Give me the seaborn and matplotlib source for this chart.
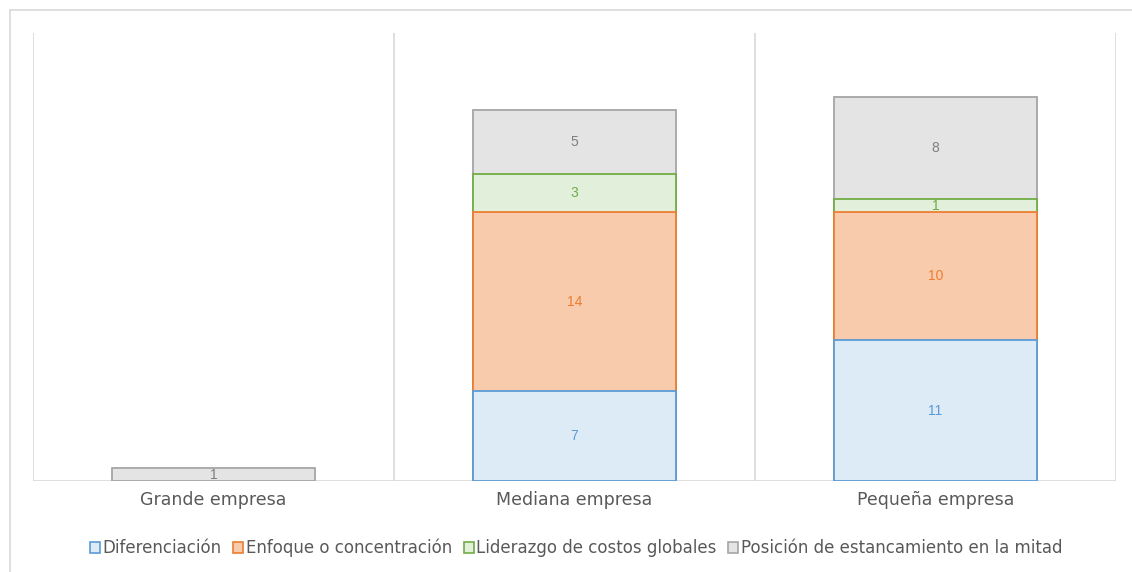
import numpy as np
import pandas as pd
import matplotlib
matplotlib.use("Agg")
import matplotlib.pyplot as plt
from matplotlib.lines import Line2D
from matplotlib.patches import Patch
import seaborn as sns

# Company size categories and strategy counts
categories = ["Grande empresa", "Mediana empresa", "Pequeña empresa"]
series_names = [
    "Diferenciación",
    "Enfoque o concentración",
    "Liderazgo de costos globales",
    "Posición de estancamiento en la mitad",
]
diferenciacion = [0, 7, 11]
enfoque = [0, 14, 10]
liderazgo = [0, 3, 1]
estancamiento = [1, 5, 8]

fills = ["#DDEBF7", "#F8CBAD", "#E2EFDA", "#E4E4E4"]
edges = ["#5B9BD5", "#ED7D31", "#70AD47", "#A5A5A5"]
label_colors = ["#5B9BD5", "#ED7D31", "#70AD47", "#7F7F7F"]

sns.set_theme(style="white")
plt.rcParams["font.family"] = ["Liberation Sans", "DejaVu Sans"]

values = np.array([diferenciacion, enfoque, liderazgo, estancamiento], dtype=float)
cum = np.cumsum(values, axis=0)
bottoms = cum - values

fig = plt.figure(figsize=(11.32, 5.72), dpi=100)
ax = fig.add_axes([33 / 1132, 1 - 481 / 572, (1116 - 33) / 1132, (481 - 33) / 572])

# Stacked bars: draw cumulative heights from the top series down so each
# segment sits on top of the ones below it.
for i in reversed(range(len(series_names))):
    heights = np.where(values[i] > 0, cum[i], np.nan)
    df = pd.DataFrame({"cat": categories, "val": heights})
    sns.barplot(data=df, x="cat", y="val", order=categories, ax=ax,
                color=fills[i], edgecolor=edges[i], linewidth=1.3,
                width=0.56, saturation=1, errorbar=None)

# Segment value labels
for i in range(len(series_names)):
    for j in range(len(categories)):
        v = values[i, j]
        if v > 0:
            ax.text(j, bottoms[i, j] + v / 2, f"{int(v)}", ha="center", va="center",
                    fontsize=10, color=label_colors[i])

ax.set_xlim(-0.5, 2.5)
ax.set_ylim(0, 35)
ax.set_xlabel("")
ax.set_ylabel("")
ax.set_yticks([])
for s in ax.spines.values():
    s.set_visible(False)
for x in [-0.5, 0.5, 1.5, 2.5]:
    ax.axvline(x, color="#D9D9D9", lw=1.2, zorder=0)
ax.axhline(0, color="#D9D9D9", lw=1.2, zorder=0.5)
ax.tick_params(axis="x", length=0, pad=7, labelsize=12.5, labelcolor="#595959")
for lbl in ax.get_xticklabels():
    lbl.set_family(["DejaVu Sans"])

handles = [Patch(facecolor=fills[i], edgecolor=edges[i], linewidth=1.2, label=series_names[i])
           for i in range(len(series_names))]
leg = fig.legend(handles=handles, loc="center", bbox_to_anchor=(576 / 1132, 1 - 548 / 572),
                 ncol=4, frameon=False, fontsize=12, handlelength=0.6, handleheight=0.6,
                 handletextpad=0.15, columnspacing=0.7, labelcolor="#595959",
                 prop={"family": ["DejaVu Sans"], "size": 12})

# Outer chart frame
fig.add_artist(Line2D([10 / 1132, 1], [1 - 10 / 572] * 2, color="#D9D9D9", lw=1.2,
                      transform=fig.transFigure))
fig.add_artist(Line2D([10 / 1132] * 2, [0, 1 - 10 / 572], color="#D9D9D9", lw=1.2,
                      transform=fig.transFigure))

fig.savefig("out.png", dpi=100, facecolor="white")
